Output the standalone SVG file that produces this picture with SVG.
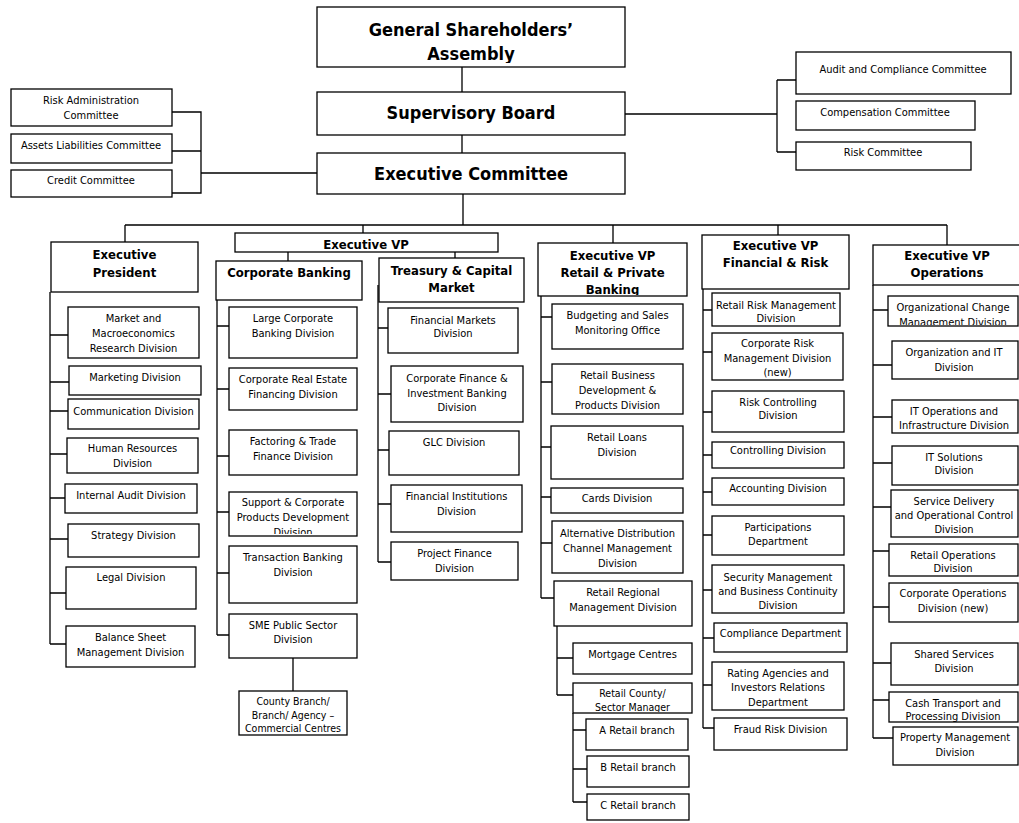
<svg xmlns="http://www.w3.org/2000/svg" width="1019" height="823" viewBox="0 0 1019 823">
<style>
.b{fill:#fff;stroke:#000;stroke-width:1.3}
.c{fill:none;stroke:#000;stroke-width:1.3}
text{font-family:"DejaVu Sans Condensed","DejaVu Sans",sans-serif;font-size:11px;text-anchor:middle;fill:#000}
.h{font-weight:bold;font-size:13px}
.H{font-weight:bold;font-size:18px}
.s{font-size:10.5px}
</style>
<defs>
<clipPath id="cp-gsa"><rect x="317" y="7" width="308" height="56"/></clipPath>
<clipPath id="cp-rtl"><rect x="538" y="243" width="149" height="52"/></clipPath>
<clipPath id="cp-scpd"><rect x="229" y="492" width="128" height="42"/></clipPath>
<clipPath id="cp-ocm"><rect x="888" y="296" width="130" height="29"/></clipPath>
<clipPath id="cp-rcs"><rect x="573" y="683" width="119" height="29"/></clipPath>
</defs>
<rect width="1019" height="823" fill="#fff"/>
<g id="connectors">
<path class="c" d="M462,67V92M462,135V153M463,194V225M125,225H947M125,225V242M363,225V233M613,225V243M778,225V235M947,225V245M288,252V261M455,252V258"/>
<path class="c" d="M625,114H777M777,80V152M777,80H796M777,152H796"/>
<path class="c" d="M172,112H201V193H172M172,151H201M201,173H317"/>
<path class="c" d="M50,292V644M50,335H68M50,382H69M50,411H68M50,454H67M50,498H65M50,539H68M50,593H66M50,644H66"/>
<path class="c" d="M217,300V635M217,326H229M217,389H229M217,456H229M217,512H229M217,573H229M217,635H229M293,658V691"/>
<path class="c" d="M378,285V562M378,328H388M378,394H391M378,450H389M378,504H391M378,562H391"/>
<path class="c" d="M541,296V598M541,317H552M541,382H552M541,447H551M541,497H551M541,543H552M541,598H554"/>
<path class="c" d="M557,626V695M557,658H573M557,695H573M573,713V802M573,730H586M573,769H587M573,802H587"/>
<path class="c" d="M703,289V728M703,310H712M703,352H712M703,412H712M703,455H712M703,492H712M703,535H712M703,590H712M703,638H714M703,685H712M703,728H714"/>
<path class="c" d="M873,285V738M873,310H888M873,365H892M873,417H892M873,463H892M873,507H891M873,551H889M873,607H889M873,663H891M873,700H889M873,738H893"/>
</g>
<g id="gsa"><rect class="b" x="317" y="7" width="308" height="60"/><text class="H" clip-path="url(#cp-gsa)"><tspan x="471" y="36">General Shareholders’</tspan><tspan x="471" y="60">Assembly</tspan></text></g>
<g id="sb"><rect class="b" x="317" y="92" width="308" height="43"/><text class="H" x="471" y="119">Supervisory Board</text></g>
<g id="ec"><rect class="b" x="317" y="153" width="308" height="41"/><text class="H" x="471" y="180">Executive Committee</text></g>
<g id="rac"><rect class="b" x="11" y="89" width="161" height="37"/><text><tspan x="91" y="104">Risk Administration</tspan><tspan x="91" y="119">Committee</tspan></text></g>
<g id="alc"><rect class="b" x="11" y="134" width="161" height="29"/><text x="91" y="149">Assets Liabilities Committee</text></g>
<g id="cc"><rect class="b" x="11" y="170" width="161" height="27"/><text x="91" y="184">Credit Committee</text></g>
<g id="acc"><rect class="b" x="796" y="52" width="215" height="42"/><text x="903" y="73">Audit and Compliance Committee</text></g>
<g id="cmc"><rect class="b" x="796" y="101" width="179" height="29"/><text x="885" y="116">Compensation Committee</text></g>
<g id="rc"><rect class="b" x="796" y="142" width="175" height="28"/><text x="883" y="156">Risk Committee</text></g>
<g id="ep"><rect class="b" x="51" y="242" width="147" height="50"/><text class="h"><tspan x="124.5" y="259">Executive</tspan><tspan x="124.5" y="277">President</tspan></text></g>
<g id="mmr"><rect class="b" x="68" y="307" width="131" height="51"/><text><tspan x="133.5" y="322">Market and</tspan><tspan x="133.5" y="337">Macroeconomics</tspan><tspan x="133.5" y="352">Research Division</tspan></text></g>
<g id="mkt"><rect class="b" x="69" y="366" width="132" height="29"/><text x="135" y="381">Marketing Division</text></g>
<g id="com"><rect class="b" x="68" y="399" width="131" height="30"/><text x="133.5" y="415">Communication Division</text></g>
<g id="hr"><rect class="b" x="67" y="438" width="131" height="35"/><text><tspan x="132.5" y="452">Human Resources</tspan><tspan x="132.5" y="467">Division</tspan></text></g>
<g id="ia"><rect class="b" x="65" y="484" width="132" height="29"/><text x="131" y="499">Internal Audit Division</text></g>
<g id="str"><rect class="b" x="68" y="524" width="131" height="33"/><text x="133.5" y="539">Strategy Division</text></g>
<g id="leg"><rect class="b" x="66" y="567" width="130" height="42"/><text x="131" y="581">Legal Division</text></g>
<g id="bsm"><rect class="b" x="66" y="626" width="129" height="41"/><text><tspan x="130.5" y="641">Balance Sheet</tspan><tspan x="130.5" y="656">Management Division</tspan></text></g>
<g id="evp"><rect class="b" x="235" y="233" width="263" height="19"/><text class="h" x="366" y="249">Executive VP</text></g>
<g id="cb"><rect class="b" x="216" y="261" width="146" height="39"/><text class="h" x="289" y="277">Corporate Banking</text></g>
<g id="lcb"><rect class="b" x="229" y="307" width="128" height="51"/><text><tspan x="293" y="322">Large Corporate</tspan><tspan x="293" y="337">Banking Division</tspan></text></g>
<g id="cre"><rect class="b" x="229" y="368" width="128" height="42"/><text><tspan x="293" y="383">Corporate Real Estate</tspan><tspan x="293" y="398">Financing Division</tspan></text></g>
<g id="ftf"><rect class="b" x="229" y="430" width="128" height="45"/><text><tspan x="293" y="445">Factoring &amp; Trade</tspan><tspan x="293" y="460">Finance Division</tspan></text></g>
<g id="scp"><rect class="b" x="229" y="492" width="128" height="44"/><text clip-path="url(#cp-scpd)"><tspan x="293" y="506">Support &amp; Corporate</tspan><tspan x="293" y="521">Products Development</tspan><tspan x="293" y="536">Division</tspan></text></g>
<g id="tbd"><rect class="b" x="229" y="546" width="128" height="57"/><text><tspan x="293" y="561">Transaction Banking</tspan><tspan x="293" y="576">Division</tspan></text></g>
<g id="sme"><rect class="b" x="229" y="614" width="128" height="44"/><text><tspan x="293" y="629">SME Public Sector</tspan><tspan x="293" y="643">Division</tspan></text></g>
<g id="cbr"><rect class="b" x="239" y="691" width="108" height="44"/><text class="s"><tspan x="293" y="705">County Branch/</tspan><tspan x="293" y="718.5">Branch/ Agency –</tspan><tspan x="293" y="732">Commercial Centres</tspan></text></g>
<g id="tcm"><rect class="b" x="379" y="258" width="145" height="44"/><text class="h"><tspan x="451.5" y="275">Treasury &amp; Capital</tspan><tspan x="451.5" y="292">Market</tspan></text></g>
<g id="fmd"><rect class="b" x="388" y="308" width="130" height="45"/><text><tspan x="453" y="324">Financial Markets</tspan><tspan x="453" y="337">Division</tspan></text></g>
<g id="cfi"><rect class="b" x="391" y="366" width="132" height="56"/><text><tspan x="457" y="382">Corporate Finance &amp;</tspan><tspan x="457" y="397">Investment Banking</tspan><tspan x="457" y="411">Division</tspan></text></g>
<g id="glc"><rect class="b" x="389" y="431" width="130" height="44"/><text x="454" y="446">GLC Division</text></g>
<g id="fid"><rect class="b" x="391" y="485" width="131" height="47"/><text><tspan x="456.5" y="500">Financial Institutions</tspan><tspan x="456.5" y="515">Division</tspan></text></g>
<g id="pfd"><rect class="b" x="391" y="542" width="127" height="38"/><text><tspan x="454.5" y="557">Project Finance</tspan><tspan x="454.5" y="572">Division</tspan></text></g>
<g id="rpb"><rect class="b" x="538" y="243" width="149" height="53"/><text class="h" clip-path="url(#cp-rtl)"><tspan x="612.5" y="260">Executive VP</tspan><tspan x="612.5" y="277">Retail &amp; Private</tspan><tspan x="612.5" y="294">Banking</tspan></text></g>
<g id="bso"><rect class="b" x="552" y="304" width="131" height="45"/><text><tspan x="617.5" y="319">Budgeting and Sales</tspan><tspan x="617.5" y="334">Monitoring Office</tspan></text></g>
<g id="rbd"><rect class="b" x="552" y="364" width="131" height="50"/><text><tspan x="617.5" y="379">Retail Business</tspan><tspan x="617.5" y="394">Development &amp;</tspan><tspan x="617.5" y="409">Products Division</tspan></text></g>
<g id="rld"><rect class="b" x="551" y="426" width="132" height="53"/><text><tspan x="617" y="441">Retail Loans</tspan><tspan x="617" y="456">Division</tspan></text></g>
<g id="crd"><rect class="b" x="551" y="488" width="132" height="25"/><text x="617" y="502">Cards Division</text></g>
<g id="adc"><rect class="b" x="552" y="521" width="131" height="52"/><text><tspan x="617.5" y="537">Alternative Distribution</tspan><tspan x="617.5" y="552">Channel Management</tspan><tspan x="617.5" y="567">Division</tspan></text></g>
<g id="rrm"><rect class="b" x="554" y="581" width="138" height="45"/><text><tspan x="623" y="596">Retail Regional</tspan><tspan x="623" y="611">Management Division</tspan></text></g>
<g id="mor"><rect class="b" x="573" y="643" width="119" height="31"/><text x="632.5" y="658">Mortgage Centres</text></g>
<g id="rcs"><rect class="b" x="573" y="683" width="119" height="30"/><text class="s" clip-path="url(#cp-rcs)"><tspan x="632.5" y="697">Retail County/</tspan><tspan x="632.5" y="711">Sector Manager</tspan></text></g>
<g id="rba"><rect class="b" x="586" y="719" width="102" height="31"/><text x="637" y="734">A Retail branch</text></g>
<g id="rbb"><rect class="b" x="587" y="756" width="102" height="31"/><text x="638" y="771">B Retail branch</text></g>
<g id="rbc"><rect class="b" x="587" y="794" width="102" height="26"/><text x="638" y="809">C Retail branch</text></g>
<g id="frk"><rect class="b" x="702" y="235" width="147" height="54"/><text class="h"><tspan x="775.5" y="250">Executive VP</tspan><tspan x="775.5" y="267">Financial &amp; Risk</tspan></text></g>
<g id="rrd"><rect class="b" x="712" y="293" width="128" height="33"/><text><tspan x="776" y="309">Retail Risk Management</tspan><tspan x="776" y="322">Division</tspan></text></g>
<g id="crm"><rect class="b" x="712" y="333" width="131" height="47"/><text><tspan x="777.5" y="347">Corporate Risk</tspan><tspan x="777.5" y="362">Management Division</tspan><tspan x="777.5" y="376">(new)</tspan></text></g>
<g id="rcd"><rect class="b" x="712" y="391" width="132" height="41"/><text><tspan x="778" y="406">Risk Controlling</tspan><tspan x="778" y="419">Division</tspan></text></g>
<g id="ctd"><rect class="b" x="712" y="442" width="132" height="26"/><text x="778" y="454">Controlling Division</text></g>
<g id="acd"><rect class="b" x="712" y="478" width="132" height="27"/><text x="778" y="492">Accounting Division</text></g>
<g id="ptd"><rect class="b" x="712" y="516" width="132" height="39"/><text><tspan x="778" y="531">Participations</tspan><tspan x="778" y="545">Department</tspan></text></g>
<g id="smb"><rect class="b" x="712" y="565" width="132" height="48"/><text><tspan x="778" y="581">Security Management</tspan><tspan x="778" y="595">and Business Continuity</tspan><tspan x="778" y="609">Division</tspan></text></g>
<g id="cpd"><rect class="b" x="714" y="623" width="133" height="29"/><text x="780.5" y="637">Compliance Department</text></g>
<g id="rai"><rect class="b" x="712" y="662" width="132" height="48"/><text><tspan x="778" y="677">Rating Agencies and</tspan><tspan x="778" y="691">Investors Relations</tspan><tspan x="778" y="706">Department</tspan></text></g>
<g id="frd"><rect class="b" x="714" y="718" width="133" height="32"/><text x="780.5" y="733">Fraud Risk Division</text></g>
<g id="ops"><rect class="b" x="873" y="245" width="150" height="40"/><text class="h"><tspan x="947" y="260">Executive VP</tspan><tspan x="947" y="277">Operations</tspan></text></g>
<g id="ocm"><rect class="b" x="888" y="296" width="130" height="30"/><text clip-path="url(#cp-ocm)"><tspan x="953" y="311">Organizational Change</tspan><tspan x="953" y="326">Management Division</tspan></text></g>
<g id="oit"><rect class="b" x="892" y="341" width="126" height="38"/><text><tspan x="954" y="356">Organization and IT</tspan><tspan x="954" y="371">Division</tspan></text></g>
<g id="ito"><rect class="b" x="892" y="400" width="126" height="33"/><text><tspan x="954" y="415">IT Operations and</tspan><tspan x="954" y="429">Infrastructure Division</tspan></text></g>
<g id="its"><rect class="b" x="892" y="446" width="126" height="39"/><text><tspan x="954" y="461">IT Solutions</tspan><tspan x="954" y="474">Division</tspan></text></g>
<g id="sdo"><rect class="b" x="891" y="490" width="127" height="47"/><text><tspan x="954" y="505">Service Delivery</tspan><tspan x="954" y="519">and Operational Control</tspan><tspan x="954" y="533">Division</tspan></text></g>
<g id="rod"><rect class="b" x="889" y="544" width="129" height="32"/><text><tspan x="953" y="559">Retail Operations</tspan><tspan x="953" y="572">Division</tspan></text></g>
<g id="cod"><rect class="b" x="889" y="583" width="129" height="39"/><text><tspan x="953" y="597">Corporate Operations</tspan><tspan x="953" y="612">Division (new)</tspan></text></g>
<g id="ssd"><rect class="b" x="891" y="643" width="127" height="42"/><text><tspan x="954" y="658">Shared Services</tspan><tspan x="954" y="672">Division</tspan></text></g>
<g id="ctp"><rect class="b" x="889" y="692" width="129" height="30"/><text><tspan x="953" y="707">Cash Transport and</tspan><tspan x="953" y="720">Processing Division</tspan></text></g>
<g id="pmd"><rect class="b" x="893" y="727" width="125" height="38"/><text><tspan x="955" y="741">Property Management</tspan><tspan x="955" y="756">Division</tspan></text></g>
</svg>
